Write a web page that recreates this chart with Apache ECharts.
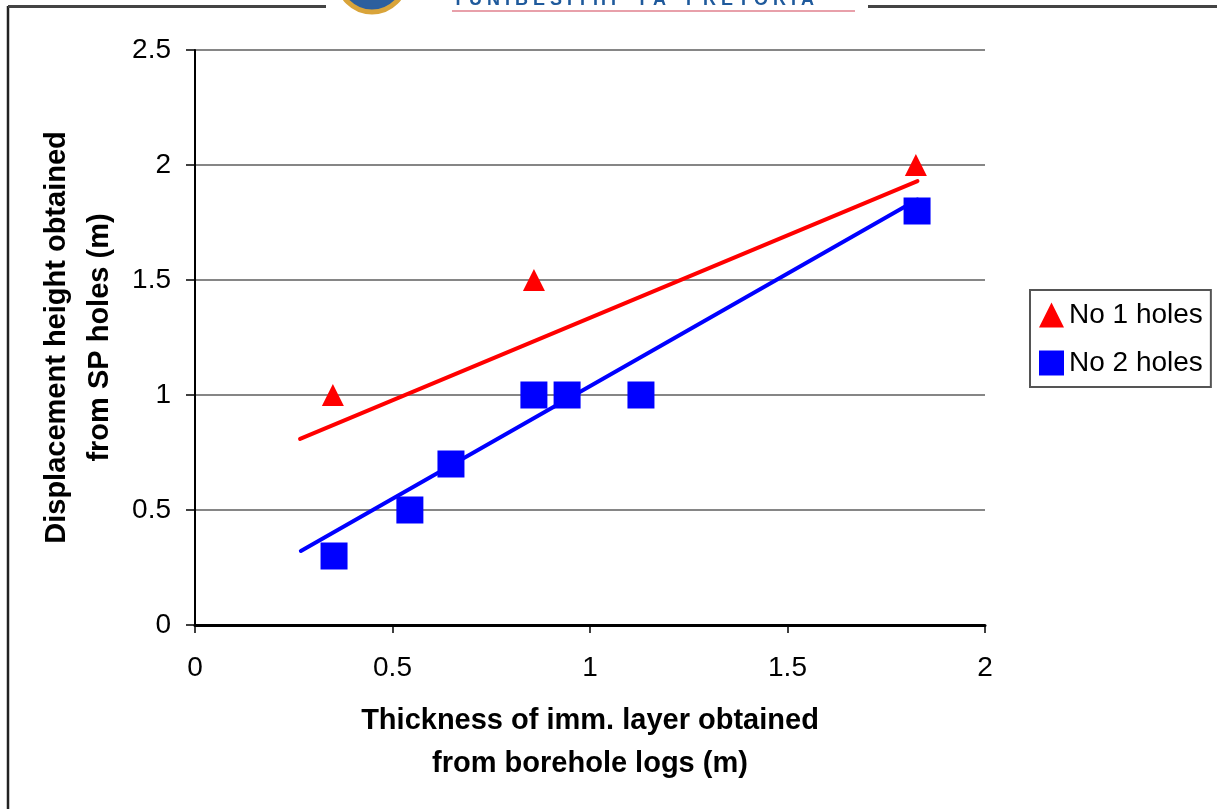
<!DOCTYPE html>
<html>
<head>
<meta charset="utf-8">
<script src="https://cdn.jsdelivr.net/npm/echarts@6/dist/echarts.min.js"></script>
<style>
html,body{margin:0;padding:0;background:#fff;}
#chart{width:1217px;height:809px;}
</style>
</head>
<body>
<div id="chart"></div>
<script>
// Data
const no1X = [0.349, 0.858, 1.825];
const no1Y = [1.0, 1.5, 2.0];
const no2X = [0.352, 0.544, 0.648, 0.858, 0.942, 1.129, 1.828];
const no2Y = [0.3, 0.5, 0.7, 1.0, 1.0, 1.0, 1.8];
// Trendline end points (as drawn)
const trend1X = [0.266, 1.829];
const trend1Y = [0.809, 1.930];
const trend2X = [0.268, 1.829];
const trend2Y = [0.322, 1.850];
const seriesNames = ['No 1 holes', 'No 2 holes'];
const xTitle = 'Thickness of imm. layer obtained\nfrom borehole logs (m)';
const yTitle = 'Displacement height obtained\nfrom SP holes (m)';
const logoText = 'Y U N I B E S I T H I    Y A    P R E T O R I A';

const zip = (xs, ys) => xs.map((x, i) => [x, ys[i]]);
const FONT = 'Liberation Sans, Arial, sans-serif';

const chart = echarts.init(document.getElementById('chart'), null, {renderer: 'canvas'});
chart.setOption({
  backgroundColor: '#ffffff',
  animation: false,
  textStyle: {fontFamily: FONT},
  grid: {left: 195, right: 232, top: 50, bottom: 184, containLabel: false},
  xAxis: {
    type: 'value', min: 0, max: 2, interval: 0.5,
    name: xTitle, nameLocation: 'middle', nameGap: 74,
    nameTextStyle: {fontSize: 29, fontWeight: 'bold', color: '#000', lineHeight: 43, fontFamily: FONT},
    axisLine: {show: true, onZero: false, lineStyle: {color: '#000', width: 3}},
    axisTick: {show: true, inside: false, length: 8, lineStyle: {color: '#000', width: 1.5}},
    axisLabel: {fontSize: 28, color: '#000', margin: 29, fontFamily: FONT},
    splitLine: {show: false}
  },
  yAxis: {
    type: 'value', min: 0, max: 2.5, interval: 0.5,
    name: yTitle, nameLocation: 'middle', nameGap: 72, nameRotate: 90,
    nameTextStyle: {fontSize: 29, fontWeight: 'bold', color: '#000', lineHeight: 43, fontFamily: FONT},
    axisLine: {show: true, onZero: false, lineStyle: {color: '#000', width: 2}},
    axisTick: {show: true, inside: false, length: 9, lineStyle: {color: '#000', width: 1.5}},
    axisLabel: {fontSize: 28, color: '#000', margin: 24, fontFamily: FONT},
    splitLine: {show: true, lineStyle: {color: '#868686', width: 2}}
  },
  legend: {
    orient: 'vertical', left: 1030, top: 290,
    data: [
      {name: seriesNames[0], icon: 'triangle'},
      {name: seriesNames[1], icon: 'rect'}
    ],
    itemWidth: 25, itemHeight: 25, itemGap: 20,
    padding: [11, 8, 10, 9],
    borderColor: '#555', borderWidth: 2, backgroundColor: '#fff',
    textStyle: {fontSize: 28, color: '#000', fontFamily: FONT, padding: [0, 0, 0, 0]}
  },
  series: [
    {
      name: seriesNames[0], type: 'scatter', symbol: 'triangle', symbolSize: [22, 22],
      itemStyle: {color: '#ff0000', opacity: 1}, data: zip(no1X, no1Y), z: 4
    },
    {
      name: seriesNames[1], type: 'scatter', symbol: 'rect', symbolSize: [27, 27],
      itemStyle: {color: '#0000ff', opacity: 1}, data: zip(no2X, no2Y), z: 4
    },
    {
      name: 'trend1', type: 'line', data: zip(trend1X, trend1Y), showSymbol: false, symbol: 'none',
      lineStyle: {color: '#ff0000', width: 4, cap: 'round'}, z: 3, silent: true
    },
    {
      name: 'trend2', type: 'line', data: zip(trend2X, trend2Y), showSymbol: false, symbol: 'none',
      lineStyle: {color: '#0000ff', width: 4, cap: 'round'}, z: 3, silent: true
    }
  ],
  graphic: [
    {type: 'line', shape: {x1: 8, y1: 6, x2: 8, y2: 809}, style: {stroke: '#222', lineWidth: 2.5}},
    {type: 'line', shape: {x1: 8, y1: 6.5, x2: 326, y2: 6.5}, style: {stroke: '#444', lineWidth: 3}},
    {type: 'line', shape: {x1: 868, y1: 6.5, x2: 1217, y2: 6.5}, style: {stroke: '#444', lineWidth: 3}},
    {type: 'circle', shape: {cx: 372, cy: -22, r: 34}, style: {fill: '#2c5f9e', stroke: '#d9a43a', lineWidth: 5}},
    {type: 'text', x: 452, y: -9, style: {text: logoText, fill: '#1f5a9c', font: 'bold 18px ' + FONT}},
    {type: 'rect', shape: {x: 452, y: 10, width: 403, height: 2}, style: {fill: '#e8a0aa'}}
  ]
});
</script>
</body>
</html>
